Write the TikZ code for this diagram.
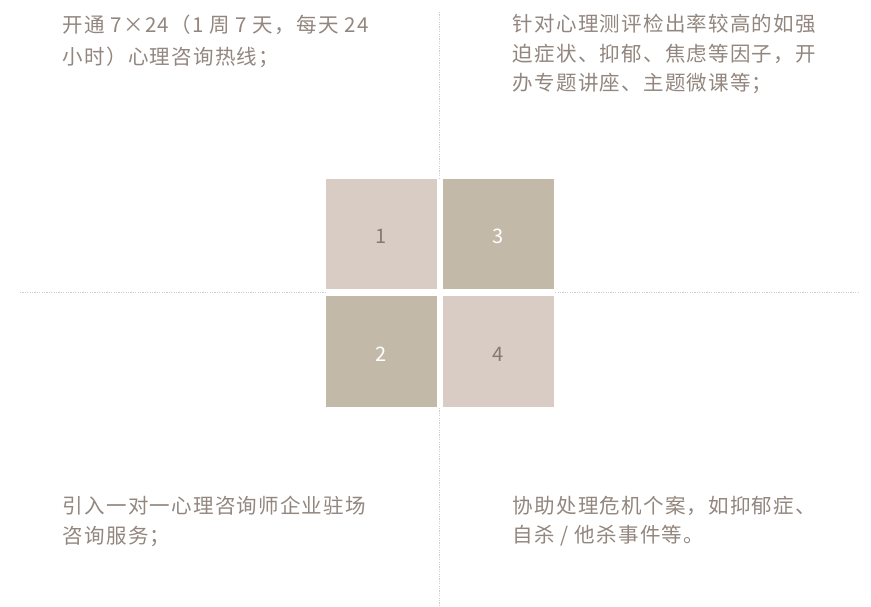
\documentclass[tikz,border=0pt]{standalone}
\usepackage{fontspec}
\setmainfont{Noto Sans CJK SC}[LetterSpace=6]
\definecolor{txtc}{RGB}{146,134,126}
\definecolor{numc}{RGB}{135,122,114}
\definecolor{lightc}{RGB}{217,204,197}
\definecolor{darkc}{RGB}{194,185,169}
\definecolor{linec}{RGB}{208,204,198}
\begin{document}
\begin{tikzpicture}[x=1pt,y=-1pt,
  txt/.style={anchor=base west, inner sep=0pt, text=txtc, font=\fontsize{20.5}{24}\selectfont},
  sq/.style={minimum width=111pt, minimum height=110.5pt, inner sep=0pt, draw=none,
    text height=19.5pt, text depth=0pt, font=\fontsize{20}{22}\selectfont},
  lightsq/.style={sq, fill=lightc, text=numc},
  darksq/.style={sq, fill=darkc, text=white},
  guide/.style={draw=linec, line width=1pt, dash pattern=on 1.2pt off 1.2pt}]
\useasboundingbox (0,0) rectangle (871,607);
\coordinate (hl) at (20,292.5);
\coordinate (hr) at (860,292.5);
\coordinate (vt) at (439.5,12);
\coordinate (vb) at (439.5,607);
\draw[guide] (hl) -- (hr);
\draw[guide] (vt) -- (vb);
\fill[white] (325.7,179) rectangle (553.7,406.7);
\node[lightsq] (s1) at (381.2,234.2) {1};
\node[darksq]  (s3) at (498.2,234.2) {3};
\node[darksq]  (s2) at (381.2,351.4) {2};
\node[lightsq] (s4) at (498.2,351.4) {4};
% top left
\node[txt] (tl1) at (62.7,32.8) {开通 7×24（1 周 7 天，每天 24};
\node[txt] (tl2) at (62.7,64.8) {小时）心理咨询热线；};
% top right
\node[txt] (tr1) at (512.7,31.8) {针对心理测评检出率较高的如强};
\node[txt] (tr2) at (512.7,61.5) {迫症状、抑郁、焦虑等因子，开};
\node[txt] (tr3) at (512.7,91) {办专题讲座、主题微课等；};
% bottom left
\node[txt] (bl1) at (62.7,513.3) {引入一对一心理咨询师企业驻场};
\node[txt] (bl2) at (62.7,543.5) {咨询服务；};
% bottom right
\node[txt] (br1) at (512.7,513.3) {协助处理危机个案，如抑郁症、};
\node[txt] (br2) at (512.7,542.5) {自杀 / 他杀事件等。};
\end{tikzpicture}
\end{document}
